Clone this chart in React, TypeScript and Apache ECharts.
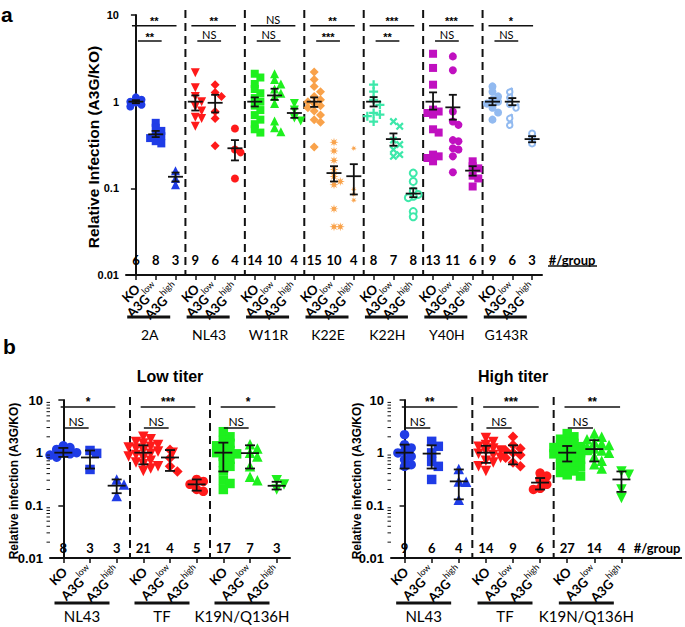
import React, { useEffect, useRef } from "react";
import * as echarts from "echarts";

// ---------------- shared ----------------
const conditions = ["KO", "A3G low", "A3G high"];

// ---------------- panel a data ----------------
const aGroups = ["2A", "NL43", "W11R", "K22E", "K22H", "Y40H", "G143R"];
const aCounts = [6, 8, 3, 9, 6, 4, 14, 10, 4, 15, 10, 4, 8, 7, 8, 13, 11, 6, 9, 6, 3];

const a2A_KO = [1.12, 1.05, 1.0, 0.98, 0.92, 0.88];
const a2A_low = [0.57, 0.5, 0.46, 0.42, 0.4, 0.38, 0.35, 0.33];
const a2A_high = [0.16, 0.13, 0.11];
const aNL43_KO = [2.15, 1.45, 1.15, 1.0, 0.88, 0.78, 0.66, 0.64, 0.52];
const aNL43_low = [1.57, 1.28, 1.15, 0.77, 0.64, 0.31];
const aNL43_high = [0.49, 0.28, 0.26, 0.13];
const aW11R_KO = [2.1, 1.9, 1.6, 1.4, 1.25, 1.1, 1.0, 0.9, 0.8, 0.7, 0.62, 0.55, 0.48, 0.44];
const aW11R_low = [2.1, 1.8, 1.6, 1.4, 1.25, 1.15, 0.95, 0.6, 0.5, 0.45];
const aW11R_high = [0.95, 0.8, 0.65, 0.6];
const aK22E_KO = [2.2, 1.8, 1.5, 1.3, 1.15, 1.05, 1.0, 0.95, 0.9, 0.85, 0.78, 0.7, 0.62, 0.58, 0.3];
const aK22E_low = [0.34, 0.27, 0.21, 0.165, 0.137, 0.12, 0.11, 0.058, 0.036, 0.036];
const aK22E_high = [0.29, 0.097, 0.085, 0.073];
const aK22H_KO = [1.57, 1.31, 1.05, 0.92, 0.74, 0.71, 0.68, 0.59];
const aK22H_low = [0.59, 0.52, 0.36, 0.32, 0.28, 0.245, 0.234];
const aK22H_high = [0.15, 0.12, 0.093, 0.085, 0.081, 0.078, 0.054, 0.047];
const aY40H_KO = [3.57, 2.45, 1.57, 0.81, 0.77, 0.74, 0.71, 0.48, 0.44, 0.245, 0.234, 0.224, 0.205];
const aY40H_low = [3.33, 2.3, 0.77, 0.59, 0.54, 0.36, 0.35, 0.29, 0.28, 0.234, 0.153];
const aY40H_high = [0.205, 0.18, 0.17, 0.14, 0.13, 0.105];
const aG143R_KO = [1.5, 1.3, 1.15, 1.05, 1.0, 0.95, 0.85, 0.75, 0.62];
const aG143R_low = [1.45, 1.25, 1.05, 0.95, 0.72, 0.6];
const aG143R_high = [0.43, 0.37, 0.33];

const aMean = [1.0, 0.42, 0.136, 1.0, 0.97, 0.29, 1.0, 1.18, 0.74, 1.0, 0.15, 0.138, 1.0, 0.37, 0.087, 1.0, 0.86, 0.16, 1.0, 1.0, 0.37];
const aErrLow = [0.96, 0.39, 0.12, 0.79, 0.75, 0.21, 0.88, 1.05, 0.65, 0.87, 0.12, 0.085, 0.88, 0.31, 0.079, 0.81, 0.62, 0.14, 0.91, 0.91, 0.34];
const aErrHigh = [1.04, 0.46, 0.152, 1.18, 1.2, 0.36, 1.12, 1.41, 0.83, 1.12, 0.18, 0.19, 1.13, 0.43, 0.1, 1.28, 1.2, 0.18, 1.1, 1.1, 0.4];
const aSigOuter = ["**", "**", "NS", "**", "***", "***", "*"];
const aSigInner = ["**", "NS", "NS", "***", "**", "NS", "NS"];

// ---------------- panel b data ----------------
const bGroups = ["NL43", "TF", "K19N/Q136H"];

const bLowCounts = [8, 3, 3, 21, 4, 5, 17, 7, 3];
const bLow_NL43_KO = [1.35, 1.25, 1.15, 1.05, 1.0, 0.95, 0.9, 0.82];
const bLow_NL43_low = [1.1, 0.97, 0.48];
const bLow_NL43_high = [0.31, 0.25, 0.15];
const bLow_TF_KO = [2.0, 1.8, 1.6, 1.5, 1.4, 1.3, 1.25, 1.2, 1.1, 1.05, 1.0, 0.95, 0.9, 0.85, 0.8, 0.7, 0.65, 0.6, 0.55, 0.5, 0.45];
const bLow_TF_low = [1.14, 0.79, 0.55, 0.44];
const bLow_TF_high = [0.31, 0.285, 0.25, 0.2, 0.185];
const bLow_K19N_KO = [2.5, 2.0, 1.7, 1.5, 1.35, 1.2, 1.1, 1.0, 0.95, 0.85, 0.75, 0.65, 0.55, 0.45, 0.3, 0.26, 0.2];
const bLow_K19N_low = [1.45, 1.2, 1.0, 0.85, 0.55, 0.35, 0.3];
const bLow_K19N_high = [0.3, 0.25, 0.2];
const bLowMean = [1.0, 0.81, 0.236, 1.0, 0.81, 0.25, 1.0, 0.98, 0.235];
const bLowErrLow = [0.83, 0.5, 0.17, 0.6, 0.45, 0.19, 0.44, 0.5, 0.2];
const bLowErrHigh = [1.23, 1.1, 0.31, 1.38, 1.12, 0.31, 1.55, 1.38, 0.28];
const bLowSigOuter = ["*", "***", "*"];
const bLowSigInner = ["NS", "NS", "NS"];

const bHighCounts = [9, 6, 4, 14, 9, 6, 27, 14, 4];
const bHigh_NL43_KO = [2.2, 1.42, 1.23, 1.06, 0.99, 0.85, 0.74, 0.59, 0.55];
const bHigh_NL43_low = [1.64, 1.32, 0.99, 0.68, 0.55, 0.31];
const bHigh_NL43_high = [0.49, 0.285, 0.28, 0.128];
const bHigh_TF_KO = [1.9, 1.6, 1.4, 1.3, 1.2, 1.1, 1.05, 0.95, 0.9, 0.8, 0.7, 0.65, 0.55, 0.45];
const bHigh_TF_low = [2.0, 1.4, 1.2, 1.1, 1.0, 0.9, 0.8, 0.65, 0.55];
const bHigh_TF_high = [0.41, 0.36, 0.31, 0.25, 0.21, 0.2];
const bHigh_K19N_KO = [2.3, 2.0, 1.8, 1.6, 1.5, 1.4, 1.3, 1.25, 1.2, 1.15, 1.1, 1.05, 1.0, 0.95, 0.9, 0.85, 0.8, 0.75, 0.7, 0.65, 0.6, 0.55, 0.5, 0.45, 0.42, 0.38, 0.36];
const bHigh_K19N_low = [2.3, 2.0, 1.8, 1.6, 1.5, 1.4, 1.3, 1.2, 1.1, 1.0, 0.85, 0.7, 0.6, 0.5];
const bHigh_K19N_high = [0.44, 0.38, 0.2, 0.138];
const bHighMean = [1.0, 0.96, 0.285, 1.0, 1.0, 0.27, 1.0, 1.17, 0.31];
const bHighErrLow = [0.5, 0.5, 0.13, 0.64, 0.6, 0.2, 0.68, 0.68, 0.18];
const bHighErrHigh = [1.42, 1.38, 0.48, 1.35, 1.38, 0.33, 1.34, 1.73, 0.44];
const bHighSigOuter = ["**", "***", "**"];
const bHighSigInner = ["NS", "NS", "NS"];

const bMinorTicks = [0.02, 0.03, 0.04, 0.05, 0.06, 0.07, 0.08, 0.09, 0.2, 0.3, 0.4, 0.5, 0.6, 0.7, 0.8, 0.9, 2, 3, 4, 5, 6, 7, 8, 9];

// ---------------- styles ----------------
const ARIAL = "'Liberation Sans', Arial, sans-serif";
const CAL = "Lato, 'Open Sans', sans-serif";
const INK = "#111";

const BLUE = "#1f3ce6";
const RED = "#ff1a1a";
const GREEN = "#1ef01e";
const ORANGE = "#f9a24a";
const TEAL = "#3de8aa";
const MAGENTA = "#c010c0";
const LIGHTBLUE = "#92baf0";

const STAR = (() => {
  let s = "path://";
  for (let k = 0; k < 16; k++) {
    const r = k % 2 === 0 ? 10 : 4;
    const ang = (Math.PI * k) / 8 - Math.PI / 2;
    s += (k === 0 ? "M" : "L") + (10 + r * Math.cos(ang)).toFixed(2) + "," + (10 + r * Math.sin(ang)).toFixed(2);
  }
  return s + "Z";
})();
const PLUS = "path://M7.5,0H12.5V7.5H20V12.5H12.5V20H7.5V12.5H0V7.5H7.5Z";

const S = {
  circle: { symbol: "circle", size: 8 },
  square: { symbol: "rect", size: 8 },
  triUp: { symbol: "triangle", size: 9 },
  triDown: { symbol: "triangle", size: 9, rotate: 180 },
  diamond: { symbol: "diamond", size: 9 },
  star: { symbol: STAR, size: 9 },
  smallStar: { symbol: STAR, size: 6 },
  plus: { symbol: PLUS, size: 9 },
  cross: { symbol: PLUS, size: 9, rotate: 45 },
  ring: { symbol: "emptyCircle", size: 7, empty: true },
  drop: { symbol: "emptyPin", size: 9, rotate: 150, empty: true },
  smallCircle: { symbol: "emptyCircle", size: 6, empty: true },
};

function big(s: any) {
  return { ...s, size: s.size + 1.5 };
}

// ---------------- layout ----------------
const PA = { left: 126, top: 15, width: 416, height: 260 };
const PBL = { left: 50, top: 400, width: 240, height: 158 };
const PBR = { left: 391, top: 400, width: 244, height: 158 };

function swarm(values: number[], d: number, decadePx: number, catPx: number) {
  const order = values.map((_, i) => i).sort((i, j) => values[j] - values[i]);
  const placed: { x: number; y: number }[] = [];
  const out = new Array(values.length).fill(0);
  const step = d * 0.7;
  const yThr = d * 0.6;
  for (const i of order) {
    const y = Math.log10(values[i]) * decadePx;
    for (let k = 0; k < 30; k++) {
      const cand = k === 0 ? 0 : (k % 2 === 1 ? 1 : -1) * Math.ceil(k / 2) * step;
      if (placed.every((p) => Math.abs(p.y - y) >= yThr || Math.abs(p.x - cand) >= step)) {
        out[i] = cand / catPx;
        placed.push({ x: cand, y });
        break;
      }
    }
  }
  return out;
}

function textEl(x: number, y: number, text: string, o: any = {}) {
  const align = o.align || "center";
  const valign = o.valign || "middle";
  return {
    type: "text",
    x,
    y,
    rotation: o.rotation || 0,
    style: {
      text,
      fill: o.color || "#000",
      fontSize: o.size || 12,
      fontWeight: o.weight || "normal",
      fontFamily: o.family || CAL,
      textAlign: align,
      textVerticalAlign: valign,
      align,
      verticalAlign: valign,
    },
  };
}

function panelSeries(p: any) {
  const series: any[] = [];
  const nCat = p.groups.length * 3;
  const catPx = p.box.width / nCat;
  const decadePx = p.box.height / 3;
  const yMin = 0.01;
  const yMax = 10;
  const base = { xAxisIndex: p.xv, yAxisIndex: p.yi, silent: true, animation: false };

  // points
  p.groups.forEach((_: string, gi: number) => {
    p.values[gi].forEach((vals: number[], ci: number) => {
      const sym = p.symbols[gi][ci];
      const offs = swarm(vals, sym.size, decadePx, catPx);
      const x0 = gi * 3 + ci;
      series.push({
        ...base,
        type: "scatter",
        data: vals.map((v, k) => [x0 + offs[k], v]),
        symbol: sym.symbol,
        symbolRotate: sym.rotate || 0,
        symbolSize: sym.size,
        itemStyle: sym.empty
          ? { color: p.colors[gi], borderColor: p.colors[gi], borderWidth: 2, opacity: 1 }
          : { color: p.colors[gi], borderWidth: 0, opacity: 1 },
        z: 3,
      });
    });
  });

  // error bars
  series.push({
    ...base,
    type: "custom",
    data: p.mean.map((m: number, i: number) => [i, m, p.lo[i], p.hi[i]]),
    encode: { x: 0, y: 1 },
    z: 10,
    renderItem: (params: any, api: any) => {
      const x = api.value(0);
      const pm = api.coord([x, api.value(1)]);
      const pl = api.coord([x, api.value(2)]);
      const ph = api.coord([x, api.value(3)]);
      const st = { stroke: INK, lineWidth: 1.8 };
      return {
        type: "group",
        children: [
          { type: "line", shape: { x1: pm[0] - p.meanHalf, y1: pm[1], x2: pm[0] + p.meanHalf, y2: pm[1] }, style: st },
          { type: "line", shape: { x1: pm[0], y1: pl[1], x2: pm[0], y2: ph[1] }, style: st },
          { type: "line", shape: { x1: pm[0] - p.capHalf, y1: pl[1], x2: pm[0] + p.capHalf, y2: pl[1] }, style: st },
          { type: "line", shape: { x1: pm[0] - p.capHalf, y1: ph[1], x2: pm[0] + p.capHalf, y2: ph[1] }, style: st },
        ],
      };
    },
  });

  // dashed separators
  series.push({
    ...base,
    type: "custom",
    data: p.groups.slice(1).map((_: string, i: number) => [i * 3 + 2.5, yMin]),
    encode: { x: 0, y: 1 },
    z: 2,
    renderItem: (params: any, api: any) => {
      const b = api.coord([api.value(0), yMin]);
      const t = api.coord([api.value(0), yMax]);
      return {
        type: "line",
        shape: { x1: b[0], y1: t[1] - p.dashTop, x2: b[0], y2: b[1] },
        style: { stroke: INK, lineWidth: 2, lineDash: [8, 5] },
      };
    },
  });

  // significance brackets
  const sigLabels: string[] = [];
  const sigData: number[][] = [];
  p.groups.forEach((_: string, gi: number) => {
    sigData.push([gi * 3 + p.outerSpan[0], yMax, gi * 3 + p.outerSpan[1], 0]);
    sigLabels.push(p.sigOuter[gi]);
    sigData.push([gi * 3 + p.innerSpan[0], yMax, gi * 3 + p.innerSpan[1], 1]);
    sigLabels.push(p.sigInner[gi]);
  });
  series.push({
    ...base,
    type: "custom",
    data: sigData,
    encode: { x: [0, 2], y: 1 },
    z: 5,
    renderItem: (params: any, api: any) => {
      const a = api.coord([api.value(0), yMax]);
      const b = api.coord([api.value(2), yMax]);
      const lvl = api.value(3);
      const y = a[1] + (lvl === 0 ? p.outerDy : p.innerDy);
      const label = sigLabels[params.dataIndex];
      const isNS = label === "NS";
      return {
        type: "group",
        children: [
          { type: "line", shape: { x1: a[0], y1: y, x2: b[0], y2: y }, style: { stroke: INK, lineWidth: 1.5 } },
          textEl((a[0] + b[0]) / 2, isNS ? y - 1 : y + 1, label, {
            valign: "bottom",
            size: p.sigFont,
            weight: isNS ? "normal" : "bold",
            family: isNS ? CAL : ARIAL,
          }),
        ],
      };
    },
  });

  // counts
  series.push({
    ...base,
    type: "custom",
    data: p.counts.map((c: number, i: number) => [i, yMin]),
    encode: { x: 0, y: 1 },
    z: 5,
    renderItem: (params: any, api: any) => {
      const pt = api.coord([api.value(0), yMin]);
      return textEl(pt[0], pt[1] - p.countDy, String(p.counts[params.dataIndex]), {
        size: p.countFont,
        weight: "bold",
      });
    },
  });

  // group bars and names
  series.push({
    ...base,
    type: "custom",
    data: p.groups.map((_: string, gi: number) => [gi * 3 + 1, yMin]),
    encode: { x: 0, y: 1 },
    z: 5,
    renderItem: (params: any, api: any) => {
      const pt = api.coord([api.value(0), yMin]);
      const cx = pt[0] + p.barShift;
      return {
        type: "group",
        children: [
          {
            type: "rect",
            shape: { x: cx - p.barHalf, y: pt[1] + p.barDy - 1.5, width: p.barHalf * 2, height: 3 },
            style: { fill: INK },
          },
          textEl(pt[0] + p.nameShift, pt[1] + p.nameDy, p.groups[params.dataIndex], { size: p.nameFont }),
        ],
      };
    },
  });

  if (p.minor) {
    series.push({
      ...base,
      type: "custom",
      data: bMinorTicks.map((v) => [-0.5, v]),
      encode: { x: 0, y: 1 },
      z: 5,
      renderItem: (params: any, api: any) => {
        const pt = api.coord([-0.5, api.value(1)]);
        return {
          type: "line",
          shape: { x1: pt[0] - 3.5, y1: pt[1], x2: pt[0], y2: pt[1] },
          style: { stroke: INK, lineWidth: 1 },
        };
      },
    });
  }
  return series;
}

function catLabels(nGroups: number) {
  const out: string[] = [];
  for (let g = 0; g < nGroups; g++) conditions.forEach((c, i) => out.push(c + "|" + (g * 3 + i)));
  return out;
}

function xAxes(gridIndex: number, nGroups: number, fontMain: number, fontSup: number, margin: number) {
  return [
    {
      type: "category",
      gridIndex,
      data: catLabels(nGroups),
      boundaryGap: true,
      position: "bottom",
      axisLine: { show: true, lineStyle: { color: INK, width: 2 } },
      axisTick: { show: true, alignWithLabel: true, length: 5, lineStyle: { color: INK, width: 1.5 } },
      axisLabel: {
        interval: 0,
        rotate: 45,
        margin,
        color: "#000",
        formatter: (v: string) => {
          const l = v.split("|")[0];
          if (l === "KO") return "{m|KO}";
          const parts = l.split(" ");
          return "{m|" + parts[0] + "}{s|" + parts[1] + "}";
        },
        rich: {
          m: { fontSize: fontMain, fontWeight: "bold", fontFamily: CAL, color: "#000", verticalAlign: "bottom", lineHeight: fontMain + 4 },
          s: { fontSize: fontSup, fontFamily: CAL, color: "#000", verticalAlign: "top", lineHeight: fontMain + 4 },
        },
      },
      splitLine: { show: false },
    },
    { type: "value", gridIndex, min: -0.5, max: nGroups * 3 - 0.5, show: false },
  ];
}

function yAxis(gridIndex: number, font: number) {
  return {
    type: "log",
    logBase: 10,
    gridIndex,
    min: 0.01,
    max: 10,
    axisLine: { show: true, lineStyle: { color: INK, width: 2 } },
    axisTick: { show: true, length: 5, lineStyle: { color: INK, width: 1.5 } },
    splitLine: { show: false },
    minorTick: { show: false },
    axisLabel: {
      color: "#000",
      fontSize: font,
      fontWeight: "bold",
      fontFamily: ARIAL,
      margin: 7,
      formatter: (v: number) => {
        const n = Number(v);
        return n >= 1 ? String(Math.round(n)) : String(+n.toPrecision(1));
      },
    },
  };
}

function buildOption() {
  const pa = panelSeries({
    box: PA,
    xv: 1,
    yi: 0,
    groups: aGroups,
    values: [
      [a2A_KO, a2A_low, a2A_high],
      [aNL43_KO, aNL43_low, aNL43_high],
      [aW11R_KO, aW11R_low, aW11R_high],
      [aK22E_KO, aK22E_low, aK22E_high],
      [aK22H_KO, aK22H_low, aK22H_high],
      [aY40H_KO, aY40H_low, aY40H_high],
      [aG143R_KO, aG143R_low, aG143R_high],
    ],
    symbols: [
      [S.circle, S.square, S.triUp],
      [S.triDown, S.diamond, S.circle],
      [S.square, S.triUp, S.triDown],
      [S.diamond, S.star, S.smallStar],
      [S.plus, S.cross, S.ring],
      [S.square, S.circle, S.square],
      [S.circle, S.drop, S.smallCircle],
    ],
    colors: [BLUE, RED, GREEN, ORANGE, TEAL, MAGENTA, LIGHTBLUE],
    mean: aMean,
    lo: aErrLow,
    hi: aErrHigh,
    meanHalf: 7.5,
    capHalf: 4,
    dashTop: 5,
    outerSpan: [-0.2, 2.05],
    innerSpan: [0.1, 1.3],
    outerDy: 10.7,
    innerDy: 26,
    sigOuter: aSigOuter,
    sigInner: aSigInner,
    sigFont: 11,
    counts: aCounts,
    countDy: 15,
    countFont: 13,
    barShift: -7,
    barHalf: 21.5,
    barDy: 42,
    nameShift: -6,
    nameDy: 59,
    nameFont: 14,
  });

  const bSymbols = [
    [big(S.circle), big(S.square), big(S.triUp)],
    [big(S.triDown), big(S.diamond), big(S.circle)],
    [big(S.square), big(S.triUp), big(S.triDown)],
  ];
  const bCommon = {
    groups: bGroups,
    symbols: bSymbols,
    colors: [BLUE, RED, GREEN],
    meanHalf: 9,
    capHalf: 5,
    dashTop: 3,
    outerSpan: [-0.1, 1.95],
    innerSpan: [0.02, 0.95],
    outerDy: 7,
    innerDy: 28,
    sigFont: 12,
    countDy: 10,
    countFont: 13,
    barShift: -8,
    barHalf: 27.5,
    barDy: 45,
    nameShift: -8,
    nameDy: 58,
    nameFont: 15,
    minor: true,
  };
  const pbl = panelSeries({
    ...bCommon,
    box: PBL,
    xv: 3,
    yi: 1,
    values: [
      [bLow_NL43_KO, bLow_NL43_low, bLow_NL43_high],
      [bLow_TF_KO, bLow_TF_low, bLow_TF_high],
      [bLow_K19N_KO, bLow_K19N_low, bLow_K19N_high],
    ],
    mean: bLowMean,
    lo: bLowErrLow,
    hi: bLowErrHigh,
    sigOuter: bLowSigOuter,
    sigInner: bLowSigInner,
    counts: bLowCounts,
  });
  const pbr = panelSeries({
    ...bCommon,
    box: PBR,
    xv: 5,
    yi: 2,
    values: [
      [bHigh_NL43_KO, bHigh_NL43_low, bHigh_NL43_high],
      [bHigh_TF_KO, bHigh_TF_low, bHigh_TF_high],
      [bHigh_K19N_KO, bHigh_K19N_low, bHigh_K19N_high],
    ],
    mean: bHighMean,
    lo: bHighErrLow,
    hi: bHighErrHigh,
    sigOuter: bHighSigOuter,
    sigInner: bHighSigInner,
    counts: bHighCounts,
  });

  const paBottom = PA.top + PA.height;
  const pbBottom = PBL.top + PBL.height;

  const graphic: any[] = [
    textEl(1, 25, "a", { align: "left", valign: "bottom", size: 21, weight: "bold", family: ARIAL }),
    textEl(3, 357, "b", { align: "left", valign: "bottom", size: 21, weight: "bold", family: ARIAL }),
    textEl(93, PA.top + PA.height / 2 + 2, "Relative Infection (A3G/KO)", {
      size: 15.5,
      weight: "bold",
      family: ARIAL,
      rotation: Math.PI / 2,
    }),
    textEl(14, PBL.top + PBL.height / 2 + 2, "Relative infection (A3G/KO)", {
      size: 12,
      weight: "bold",
      family: ARIAL,
      rotation: Math.PI / 2,
    }),
    textEl(357, PBR.top + PBR.height / 2 + 2, "Relative infection (A3G/KO)", {
      size: 12,
      weight: "bold",
      family: ARIAL,
      rotation: Math.PI / 2,
    }),
    textEl(170, 376, "Low titer", { size: 16, weight: "bold", family: ARIAL }),
    textEl(513, 376, "High titer", { size: 16, weight: "bold", family: ARIAL }),
    textEl(572, paBottom - 15, "#/group", { size: 13, weight: "bold" }),
    { type: "line", shape: { x1: 548, y1: paBottom - 9, x2: 597, y2: paBottom - 9 }, style: { stroke: INK, lineWidth: 1.5 } },
    textEl(657, pbBottom - 10, "#/group", { size: 13, weight: "bold" }),
    {
      type: "line",
      shape: { x1: PBR.left + PBR.width, y1: pbBottom, x2: 682, y2: pbBottom },
      style: { stroke: INK, lineWidth: 2 },
    },
  ];

  return {
    animation: false,
    backgroundColor: "#fff",
    grid: [
      { ...PA, containLabel: false },
      { ...PBL, containLabel: false },
      { ...PBR, containLabel: false },
    ],
    xAxis: [...xAxes(0, 7, 13, 9, 10), ...xAxes(1, 3, 13, 9, 10), ...xAxes(2, 3, 13, 9, 10)],
    yAxis: [yAxis(0, 11), yAxis(1, 13), yAxis(2, 13)],
    series: [...pa, ...pbl, ...pbr],
    graphic,
  };
}

export default function App() {
  const ref = useRef<HTMLDivElement>(null);
  useEffect(() => {
    const chart = echarts.init(ref.current as HTMLDivElement, null, { renderer: "svg" });
    chart.setOption(buildOption() as any);
    return () => chart.dispose();
  }, []);
  return (
    <div
      ref={ref}
      style={{ position: "absolute", left: 0, top: 0, width: 685, height: 627, background: "#fff" }}
    />
  );
}
